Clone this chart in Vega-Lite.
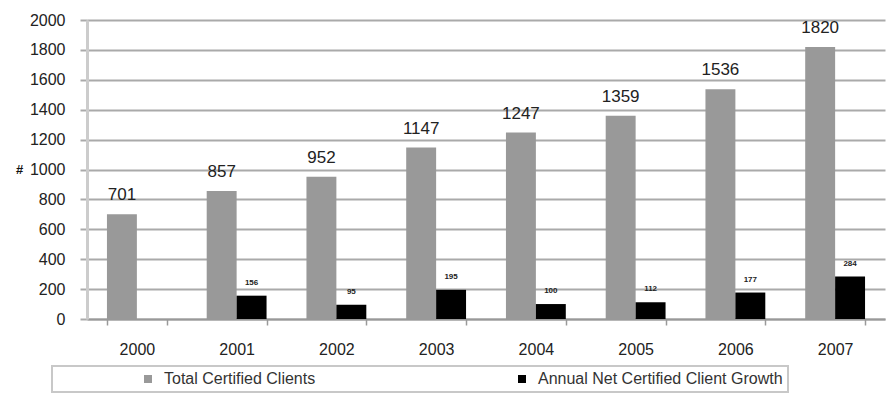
{
  "$schema": "https://vega.github.io/schema/vega-lite/v6.json",
  "width": 798,
  "height": 299,
  "autosize": "none",
  "padding": {"left": 87, "top": 20, "right": 4, "bottom": 74},
  "background": "white",
  "config": {"font": "Liberation Sans", "view": {"stroke": null}},
  "data": {
    "values": [
      {"year": "2000", "series": "Total Certified Clients", "value": 701},
      {"year": "2001", "series": "Total Certified Clients", "value": 857},
      {"year": "2002", "series": "Total Certified Clients", "value": 952},
      {"year": "2003", "series": "Total Certified Clients", "value": 1147},
      {"year": "2004", "series": "Total Certified Clients", "value": 1247},
      {"year": "2005", "series": "Total Certified Clients", "value": 1359},
      {"year": "2006", "series": "Total Certified Clients", "value": 1536},
      {"year": "2007", "series": "Total Certified Clients", "value": 1820},
      {"year": "2001", "series": "Annual Net Certified Client Growth", "value": 156},
      {"year": "2002", "series": "Annual Net Certified Client Growth", "value": 95},
      {"year": "2003", "series": "Annual Net Certified Client Growth", "value": 195},
      {"year": "2004", "series": "Annual Net Certified Client Growth", "value": 100},
      {"year": "2005", "series": "Annual Net Certified Client Growth", "value": 112},
      {"year": "2006", "series": "Annual Net Certified Client Growth", "value": 177},
      {"year": "2007", "series": "Annual Net Certified Client Growth", "value": 284}
    ]
  },
  "encoding": {
    "x": {
      "field": "year",
      "type": "nominal",
      "scale": {"paddingInner": 0.4, "paddingOuter": 0.2},
      "axis": {
        "title": null,
        "labelAngle": 0,
        "labelFontSize": 16,
        "labelColor": "#222",
        "labelPadding": 16,
        "tickBand": "extent",
        "tickSize": 6,
        "tickColor": "#999",
        "tickWidth": 1.5,
        "domainColor": "#999",
        "domainWidth": 2,
        "grid": false
      }
    },
    "xOffset": {
      "field": "series",
      "type": "nominal",
      "sort": ["Total Certified Clients", "Annual Net Certified Client Growth"],
      "scale": {"paddingInner": 0, "paddingOuter": 0}
    },
    "y": {
      "field": "value",
      "type": "quantitative",
      "scale": {"domain": [0, 2000]},
      "axis": {
        "values": [0, 200, 400, 600, 800, 1000, 1200, 1400, 1600, 1800, 2000],
        "tickCount": 20,
        "format": "d",
        "labelOverlap": false,
        "title": "#",
        "titleAngle": 0,
        "titleX": -68,
        "titleY": 149.5,
        "titleAlign": "center",
        "titleBaseline": "middle",
        "titleFontSize": 13,
        "titleFontWeight": "bold",
        "titleColor": "#111",
        "labelFontSize": 16,
        "labelColor": "#222",
        "labelPadding": 15,
        "tickSize": 7,
        "tickColor": "#aaa",
        "tickWidth": 2,
        "gridColor": "#aaa",
        "gridWidth": 2,
        "domainColor": "#ccc",
        "domainWidth": 3
      }
    }
  },
  "layer": [
    {
      "mark": {"type": "bar"},
      "encoding": {
        "color": {
          "field": "series",
          "type": "nominal",
          "sort": ["Total Certified Clients", "Annual Net Certified Client Growth"],
          "scale": {
            "domain": ["Total Certified Clients", "Annual Net Certified Client Growth"],
            "range": ["#999999", "#000000"]
          },
          "legend": {
            "title": null,
            "orient": "none",
            "direction": "horizontal",
            "legendX": -35,
            "legendY": 346,
            "symbolType": "square",
            "symbolSize": 64,
            "symbolStrokeWidth": 0,
            "symbolOffset": 83,
            "labelFontSize": 16,
            "labelColor": "#333",
            "labelOffset": 8,
            "labelLimit": 500,
            "columnPadding": 115,
            "padding": 5,
            "strokeColor": "#c8c8c8",
            "encode": {"legend": {"update": {"strokeWidth": {"value": 2}}}}
          }
        }
      }
    },
    {
      "transform": [{"filter": "datum.series === 'Total Certified Clients'"}],
      "mark": {"type": "text", "fontSize": 17, "color": "#222", "baseline": "alphabetic", "dy": -14},
      "encoding": {
        "text": {"field": "value", "type": "quantitative"}
      }
    },
    {
      "transform": [{"filter": "datum.series === 'Annual Net Certified Client Growth'"}],
      "mark": {"type": "text", "fontSize": 8, "fontWeight": "bold", "color": "#222", "baseline": "alphabetic", "dy": -11},
      "encoding": {
        "text": {"field": "value", "type": "quantitative"}
      }
    }
  ]
}
